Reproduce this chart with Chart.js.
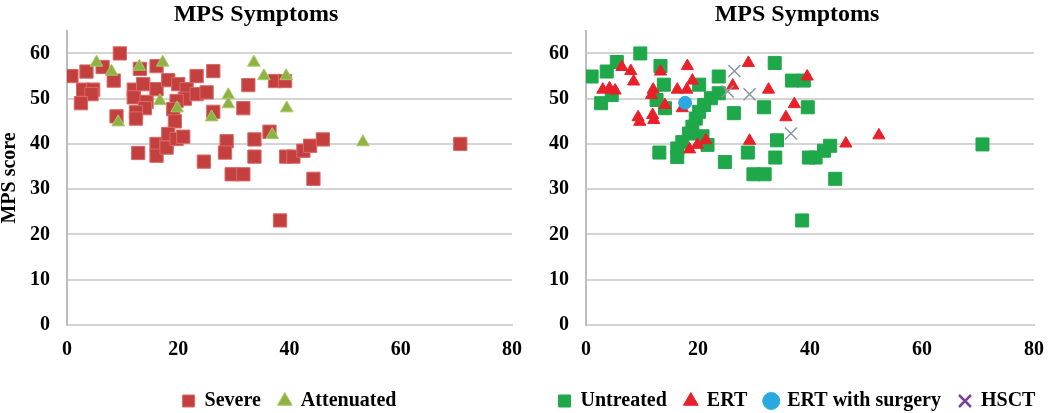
<!DOCTYPE html>
<html>
<head>
<meta charset="utf-8">
<script src="https://cdn.jsdelivr.net/npm/chart.js@4.4.0/dist/chart.umd.min.js"></script>
<style>
  body { margin: 0; background: #fff; overflow: hidden; }
  #wrap { position: relative; width: 1050px; height: 413px; overflow: hidden; }
  canvas { position: absolute; top: 0; }
</style>
</head>
<body>
<div id="wrap">
  <canvas id="leftChart" width="525" height="413" style="left:0"></canvas>
  <canvas id="rightChart" width="560" height="413" style="left:500px"></canvas>
</div>
<script>
// Left chart: severity groups (x = age, y = MPS score)
const severeX = [0.8, 3.5, 6.4, 9.5, 8.4, 2.9, 4.7, 4.4, 2.5, 13.1, 16.1, 12, 12, 13.7, 14.3, 14, 12.4, 12.4, 8.9,
  16.1, 18.2, 20, 21.5, 21.2, 19.7, 23.3, 23.3, 25.1, 26.3, 26.3, 19.1, 19.4, 12.8, 16.1, 17.9, 16.1, 17.9, 18.2, 19.7, 20.9,
  28.7, 28.4, 24.6, 29.6, 31.7, 32.6, 31.7, 33.7, 33.7, 36.4, 37.4, 39.2, 38.3, 39.4, 40.7, 42.5, 43.7, 46, 44.3, 70.7];
const severeY = [55, 56, 57, 60, 54, 52, 52, 51, 49, 56.6, 57.2, 52, 50.3, 53.2, 49.3, 47.9, 47, 45.6, 46.1,
  52.1, 54.1, 53.2, 52.1, 50, 49.5, 55, 51, 51.4, 56.1, 47.1, 47.7, 45, 38, 40, 40, 37.4, 39.2, 42.2, 41.1, 41.6,
  40.6, 38.1, 36.1, 33.3, 33.3, 53, 47.9, 41, 37.2, 42.7, 53.9, 53.9, 23.1, 37.2, 37.2, 38.5, 39.6, 41, 32.3, 40];
const attenX = [5.3, 8, 13, 17.2, 16.7, 19.8, 9.2, 26, 29, 29, 33.6, 35.4, 39.4, 39.5, 36.9, 53.2];
const attenY = [58, 56, 57.1, 58, 49.5, 47.9, 44.8, 45.9, 50.8, 48.8, 58, 55, 55, 47.9, 42, 40.4];

// Right chart: treatment groups
const untreatedX = [1, 3.7, 5.5, 9.7, 13.3, 13.9, 4.6, 2.7, 12.6, 14.1, 20.2, 23.7, 23.7,
  22.3, 21.1, 20.2, 19.6, 19, 18.4, 17.2, 16.3, 16.3, 20.8, 21.7,
  13.1, 24.8, 26.4, 28.9, 29.9, 31.9, 31.8, 33.7, 34.1, 33.8,
  36.8, 38.9, 39.6, 38.6, 39.8, 41, 42.5, 43.6, 44.5, 70.8];
const untreatedY = [54.9, 56, 58.1, 60, 57.2, 53.1, 50.8, 49, 49.7, 47.9, 53.1, 54.9, 51.2,
  50.1, 48.6, 47.1, 45.6, 43.8, 42.3, 40.4, 39, 37.1, 41.7, 39.8,
  38.1, 36, 46.8, 38.1, 33.3, 33.3, 48.1, 57.9, 40.8, 37,
  54, 54, 48.1, 23.1, 37, 37, 38.5, 39.6, 32.3, 39.9];
const ertX = [6.4, 8, 8.5, 3, 4.2, 5.2, 13.3, 18.1, 12, 11.7, 19, 16.3, 18, 14.1, 17.2, 9.3, 9.6, 11.9, 12.1,
  29, 26.2, 32.6, 39.5, 37.2, 35.7, 29.2, 46.4, 52.3, 18.5, 19.9, 21.4];
const ertY = [57, 56.1, 53.8, 52, 52.3, 51.8, 56, 57.2, 52, 50.8, 54, 52, 52, 48.6, 47.9, 45.9, 44.9, 46.4, 45.3,
  57.9, 52.9, 52, 54.9, 48.8, 45.9, 40.7, 40.1, 41.9, 38.8, 39.8, 40.8];
const surgeryX = [17.7];
const surgeryY = [49.1];
const hsctX = [26.5, 25.3, 29.2, 36.6];
const hsctY = [56.1, 51.6, 51, 42.3];

const xTicks = [0, 20, 40, 60, 80];
const yTicks = [0, 10, 20, 30, 40, 50, 60];

function toPoints(xs, ys) {
  return xs.map((x, i) => ({ x: x, y: ys[i] }));
}

const serif = "'Liberation Serif', 'Times New Roman', serif";

// yWidth: width of the y axis box, gapRight: space right of the plot area
function makeOptions(showYTitle, yWidth, padLeft, padRight, gapRight, legendFull) {
  return {
    responsive: false,
    animation: false,
    devicePixelRatio: 1,
    layout: { padding: { left: padLeft, right: padRight, top: 0, bottom: -8 } },
    plugins: {
      tooltip: { enabled: false },
      title: {
        display: true,
        text: "MPS Symptoms",
        color: "#000",
        font: { family: serif, size: 24, weight: "bold" },
        padding: { top: 0, bottom: 2 },
      },
      legend: {
        position: "bottom",
        fullSize: legendFull,
        labels: {
          usePointStyle: true,
          boxWidth: 12,
          boxHeight: 12,
          padding: 18,
          color: "#000",
          font: { family: serif, size: 20, weight: "bold" },
          sort: (a, b) => a.datasetIndex - b.datasetIndex,
        },
      },
    },
    scales: {
      x: {
        type: "linear",
        min: 0,
        max: 80,
        afterBuildTicks: (s) => { s.ticks = xTicks.map((v) => ({ value: v })); },
        afterFit: (s) => { s.height = 48; s.paddingLeft = 0; s.paddingRight = gapRight; },
        grid: { display: false, drawTicks: false },
        border: { display: true, color: "#d4d4d4", width: 2 },
        ticks: {
          padding: 13,
          color: "#000",
          font: { family: serif, size: 20, weight: "bold" },
        },
      },
      y: {
        type: "linear",
        min: 0,
        max: 65,
        afterBuildTicks: (s) => { s.ticks = yTicks.map((v) => ({ value: v })); },
        afterFit: (s) => { s.width = yWidth; s.paddingTop = 0; s.paddingBottom = 0; },
        grid: { color: "#d4d4d4", lineWidth: 2, drawTicks: false },
        border: { display: true, color: "#bdbdbd", width: 2 },
        title: {
          display: showYTitle,
          text: "MPS score",
          color: "#000",
          font: { family: serif, size: 20, weight: "bold", lineHeight: 1 },
          padding: 0,
        },
        ticks: {
          padding: 17,
          color: "#000",
          font: { family: serif, size: 20, weight: "bold" },
        },
      },
    },
  };
}

new Chart(document.getElementById("leftChart"), {
  type: "scatter",
  data: {
    datasets: [
      {
        label: "Severe",
        data: toPoints(severeX, severeY),
        pointStyle: "rect",
        pointRadius: 9.4,
        backgroundColor: "#c4403e",
        borderColor: "#d86a68",
        borderWidth: 1,
        order: 1,
      },
      {
        label: "Attenuated",
        data: toPoints(attenX, attenY),
        pointStyle: "triangle",
        pointRadius: 7.3,
        backgroundColor: "#8db443",
        borderColor: "#a8c86a",
        borderWidth: 1,
        order: 0,
      },
    ],
  },
  options: makeOptions(true, 67, 0, 13, 12, false),
});

const rightOptions = makeOptions(false, 49, 37, 3, 26, true);
rightOptions.plugins.legend.labels.generateLabels = (chart) => {
  const items = Chart.defaults.plugins.legend.labels.generateLabels(chart);
  items.forEach((it) => {
    if (it.text === "HSCT") {
      it.strokeStyle = "#7b3f9e";
      it.lineWidth = 2.5;
    }
  });
  return items;
};

new Chart(document.getElementById("rightChart"), {
  type: "scatter",
  data: {
    datasets: [
      {
        label: "Untreated",
        data: toPoints(untreatedX, untreatedY),
        pointStyle: "rect",
        pointRadius: 9.2,
        backgroundColor: "#1fa84a",
        borderColor: "#1fa84a",
        borderWidth: 1,
        order: 3,
      },
      {
        label: "ERT",
        data: toPoints(ertX, ertY),
        pointStyle: "triangle",
        pointRadius: 7,
        backgroundColor: "#e8202a",
        borderColor: "#e8202a",
        borderWidth: 1,
        order: 2,
      },
      {
        label: "ERT with surgery",
        data: toPoints(surgeryX, surgeryY),
        pointStyle: "circle",
        pointRadius: 6.5,
        backgroundColor: "#2aa9e0",
        borderColor: "#2aa9e0",
        borderWidth: 1,
        order: 0,
      },
      {
        label: "HSCT",
        data: toPoints(hsctX, hsctY),
        pointStyle: "crossRot",
        pointRadius: 8.5,
        backgroundColor: "#8c96a0",
        borderColor: "#8c96a0",
        borderWidth: 1.5,
        order: 1,
      },
    ],
  },
  options: rightOptions,
});
</script>
</body>
</html>
